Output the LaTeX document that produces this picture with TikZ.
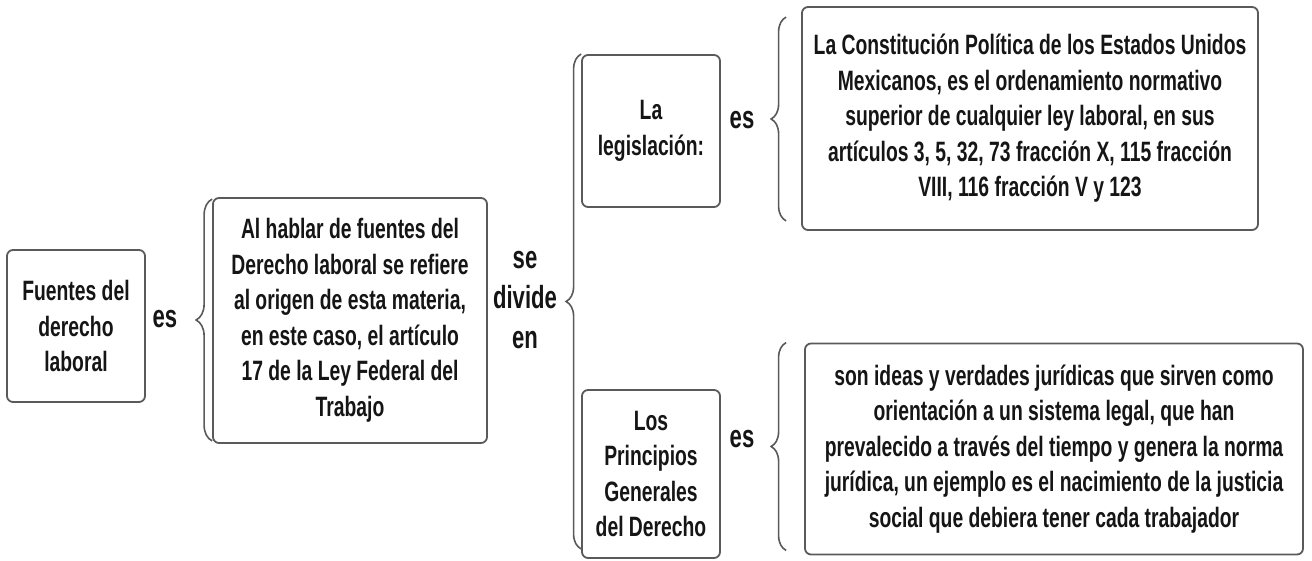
\documentclass[tikz,border=0pt]{standalone}
\usepackage{fontspec}
\setmainfont{Liberation Sans}[FakeStretch=0.69,BoldFont={Liberation Sans Bold}]
\usetikzlibrary{decorations.pathreplacing}
\definecolor{boxline}{HTML}{5A5A5A}
\definecolor{txt}{HTML}{151515}
\tikzset{
  mapbox/.style={draw=boxline, line width=1.8pt, rounded corners=6pt, inner sep=0pt,
    align=center, text=txt, font=\fontsize{28}{35.5}\selectfont\bfseries, anchor=center},
  linklabel/.style={text=txt, font=\fontsize{32}{40}\selectfont\bfseries, align=center, inner sep=0pt},
  curly/.style={draw=boxline, line width=1.6pt, decorate,
    decoration={brace, amplitude=#1}},
}
\begin{document}
\begin{tikzpicture}[x=1pt,y=-1pt]
\useasboundingbox (0,0) rectangle (1312,561);
\node[mapbox, minimum width=138pt, minimum height=152pt] (fuentes) at (76,326)
  {Fuentes del\\derecho\\laboral};
\node[mapbox, minimum width=274pt, minimum height=245pt] (def) at (350,320.5)
  {Al hablar de fuentes del\\Derecho laboral se refiere\\al origen de esta materia,\\en este caso, el artículo\\17 de la Ley Federal del\\Trabajo};
\node[mapbox, minimum width=138pt, minimum height=152pt] (legis) at (651,131)
  {La\\legislación:};
\node[mapbox, minimum width=456pt, minimum height=223pt] (const) at (1030,118.5)
  {La Constitución Política de los Estados Unidos\\Mexicanos, es el ordenamiento normativo\\superior de cualquier ley laboral, en sus\\artículos 3, 5, 32, 73 fracción X, 115 fracción\\VIII, 116 fracción V y 123};
\node[mapbox, minimum width=138pt, minimum height=168pt] (princ) at (651,474)
  {Los\\Principios\\Generales\\del Derecho};
\node[mapbox, minimum width=498pt, minimum height=211pt] (ideas) at (1054,449)
  {\raisebox{-6pt}{\begin{tabular}{@{}c@{}}son ideas y verdades jurídicas que sirven como\\orientación a un sistema legal, que han\\prevalecido a través del tiempo y genera la norma\\jurídica, un ejemplo es el nacimiento de la justicia\\social que debiera tener cada trabajador\end{tabular}}};
% labels
\node[linklabel, anchor=base] (es1) at (165,327) {es};
\node[linklabel] (divide) at (525,300) {se\\divide\\en};
\node[linklabel, anchor=base] (es2) at (742,129) {es};
\node[linklabel, anchor=base] (es3) at (742,447) {es};
% braces
\draw[curly=16pt] ([yshift=3pt]def.south west) -- ([yshift=-2pt]def.north west);
\draw[curly=15pt] ([yshift=10pt]princ.south west) -- (legis.north west);
\draw[curly=15pt] ([xshift=-15pt,yshift=10pt]const.south west) -- ([xshift=-15pt,yshift=-11pt]const.north west);
\draw[curly=15pt] ([xshift=-18pt,yshift=5pt]ideas.south west) -- ([xshift=-18pt]ideas.north west);
\end{tikzpicture}
\end{document}
